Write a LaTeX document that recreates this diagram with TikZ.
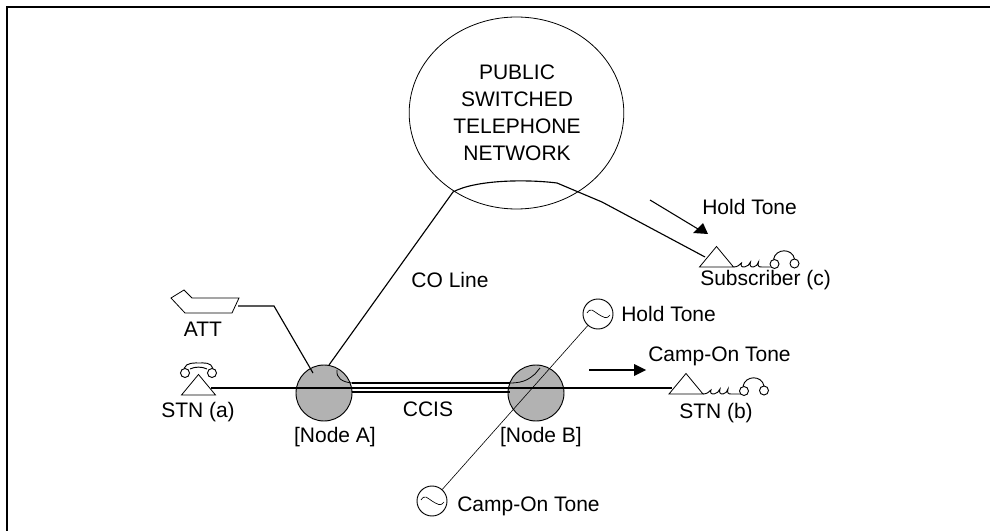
\documentclass[tikz,border=0pt]{standalone}
\usepackage{fontspec}
\setmainfont{Liberation Sans}
\usetikzlibrary{arrows.meta,shapes.geometric,calc}
\tikzset{x=0.75pt,y=-0.75pt,
  lbl/.style={font=\fontsize{15.75}{20}\selectfont,inner sep=0pt,text=black,text height=11.3pt,text depth=0pt},
  wire/.style={draw=black,line width=0.85pt},
  fine/.style={draw=black,line width=0.45pt},
  hub/.style={circle,draw=black,fill=black!30,line width=0.7pt,minimum size=42pt,inner sep=0pt},
  tonesrc/.style={circle,draw=black,fill=white,line width=0.7pt,minimum size=22.5pt,inner sep=0pt},
  flow/.style={draw=black,line width=0.8pt},
  cloud/.style={ellipse,draw=black,line width=0.6pt,minimum width=161pt,minimum height=144pt,inner sep=0pt,align=center},
}
\newcommand{\hset}[1]{%
  \begin{scope}[shift={(#1)}]
    \draw[fill=white,line width=0.6pt] (-17,0) -- (0,-20.5) -- (17,0) -- cycle;
  \end{scope}}
\newcommand{\cordset}[1]{%
  \begin{scope}[shift={(#1)},line width=0.7pt]
    \draw (17,0) .. controls (21,0) and (23,-2) .. (25,-4) .. controls (24,-1) and (25,0) .. (28,0)
      .. controls (31,0) and (33,-3) .. (34,-5) .. controls (33,-1) and (34,0) .. (37,0)
      .. controls (40,0) and (41,-3) .. (42,-5) .. controls (41,-1) and (42,0) .. (45,0) -- (54,0);
    \draw (58,-3) circle (4.5);
    \draw (78,-3.5) circle (4.5);
    \draw (57,-7.5) .. controls (59,-19) and (76,-19) .. (78,-8);
  \end{scope}}
\newcommand{\wave}[1]{%
  \draw[line width=0.5pt] ($(#1)+(-11,-1)$) .. controls +(4,-6) and +(-5,-3) .. ($(#1)+(0,0)$) .. controls +(5,3) and +(-3,5) .. ($(#1)+(12,1)$);}
\begin{document}
\begin{tikzpicture}
\useasboundingbox (0,0) rectangle (990,531);
% frame
\coordinate (fbl) at (7,531); \coordinate (ftl) at (7,7); \coordinate (ftr) at (990,7);
\draw[line width=1.6pt] (fbl) -- (ftl) -- (ftr);
% cloud
\node[cloud] (pstn) at (516.5,113) {};
\node[lbl] (t1) at (517,72) {PUBLIC};
\node[lbl] (t2) at (517,99) {SWITCHED};
\node[lbl] (t3) at (517,126) {TELEPHONE};
\node[lbl] (t4) at (517,153) {NETWORK};
% hubs
\node[hub] (nodeA) at (324,393) {};
\node[hub] (nodeB) at (536,393) {};
% named ends
\coordinate (coEnd) at (329,365);
\coordinate (coTop) at (453,192);
\coordinate (peak) at (557,183);
\coordinate (bend) at (602,202);
\coordinate (subs) at (705,257);
\coordinate (attOut) at (238,306);
\coordinate (attBend) at (274,306);
\coordinate (attEnd) at (313,373);
\coordinate (a1) at (211,388);
\coordinate (b1) at (672,388);
\coordinate (cA) at (352,383);
\coordinate (cB) at (510,383);
\coordinate (dA) at (352,392);
\coordinate (dB) at (510,392);
% connectors
\draw[wire] (coEnd) -- (coTop) .. controls (475,180) and (525,179) .. (peak) -- (bend) -- (subs);
\draw[wire] (attOut) -- (attBend) -- (attEnd);
\draw[wire] (a1) -- (b1);
\draw[wire] (cA) -- (cB);
\draw[draw=black,line width=2pt] (dA) -- (dB);
\draw[fine,line width=0.6pt] (337,370) .. controls (336,378) and (342,382) .. (cA);
\draw[fine,line width=0.6pt] (cB) .. controls (525,383) and (530,378) .. (535,374) -- (540,368);
% tones
\node[tonesrc] (holdSrc) at (598,314) {};
\node[tonesrc] (campSrc) at (432,501) {};
\wave{holdSrc}
\wave{campSrc}
\draw[fine] (holdSrc) -- (campSrc);
% ATT
\path[draw=black,fill=white,line width=0.6pt] (171,298) -- (184,290) -- (192,298) -- (239,298) -- (232,313) -- (185,313) -- cycle;
% sets
\hset{198.5,395}
\draw[line width=0.7pt] (185,373) circle (4.5);
\draw[line width=0.7pt] (212,373) circle (4.5);
\draw[line width=0.7pt] (184,368.5) .. controls (186,362) and (196,363) .. (199,363) .. controls (204,363) and (211,362) .. (213,368.5);
\draw[line width=0.7pt] (190,369) .. controls (195,366.5) and (202,366.5) .. (207,369);
\hset{686,394}
\cordset{686,394}
\hset{716.5,267}
\cordset{716.5,267}
% flow arrows
\coordinate (f1s) at (650,200); \coordinate (f1e) at (698,229);
\draw[flow] (f1s) -- (f1e);
\fill (703,223) -- (693,233) -- (708,234) -- cycle;
\coordinate (f2s) at (589,370); \coordinate (f2e) at (636,370);
\draw[flow] (f2s) -- (f2e);
\fill (634,364) -- (646,370) -- (634,376) -- cycle;
% labels
\node[lbl,anchor=west] (l1) at (702,207) {Hold Tone};
\node[lbl,anchor=west] (l2) at (700,278) {Subscriber (c)};
\node[lbl] (l3) at (450,280) {CO Line};
\node[lbl] (l4) at (203,329) {ATT};
\node[lbl,anchor=west] (l5) at (621,314) {Hold Tone};
\node[lbl,anchor=west] (l6) at (648,354) {Camp-On Tone};
\node[lbl] (l7) at (198,410) {STN (a)};
\node[lbl] (l8) at (428,409) {CCIS};
\node[lbl] (l9) at (335,435) {[Node A]};
\node[lbl] (l10) at (541,435) {[Node B]};
\node[lbl] (l11) at (716,411) {STN (b)};
\node[lbl,anchor=west] (l12) at (457,504) {Camp-On Tone};
\end{tikzpicture}
\end{document}
